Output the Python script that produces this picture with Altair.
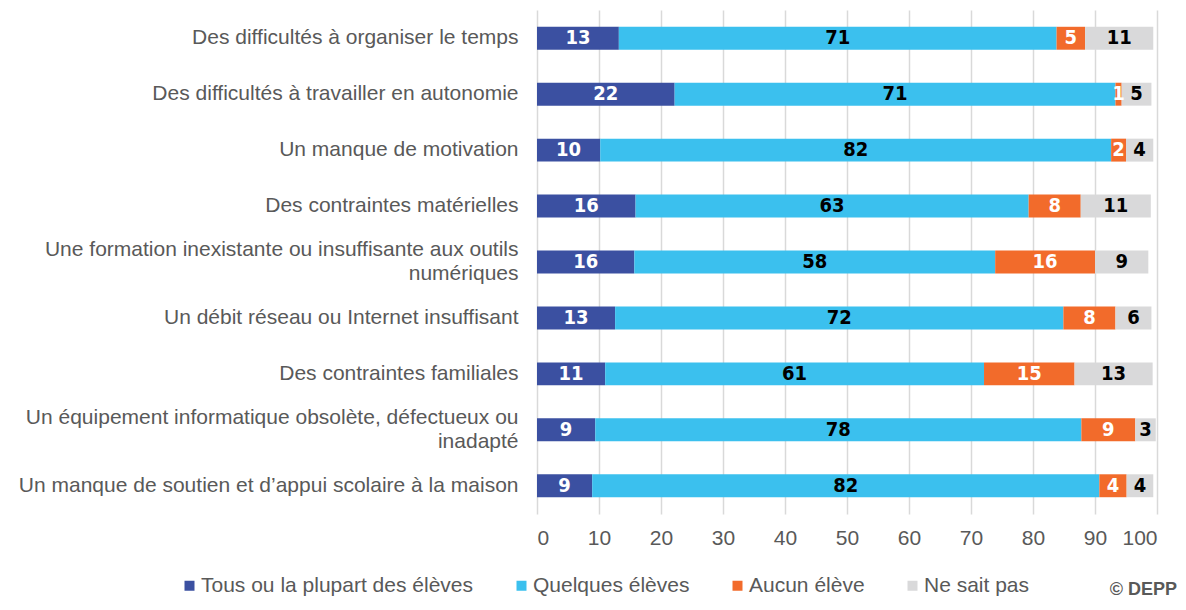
import altair as alt
import pandas as pd

categories = [
    ["Des difficultés à organiser le temps"],
    ["Des difficultés à travailler en autonomie"],
    ["Un manque de motivation"],
    ["Des contraintes matérielles"],
    ["Une formation inexistante ou insuffisante aux outils", "numériques"],
    ["Un débit réseau ou Internet insuffisant"],
    ["Des contraintes familiales"],
    ["Un équipement informatique obsolète, défectueux ou", "inadapté"],
    ["Un manque de soutien et d’appui scolaire à la maison"],
]
series = ["Tous ou la plupart des élèves", "Quelques élèves", "Aucun élève", "Ne sait pas"]
colors = ["#3B50A1", "#3BC0EE", "#F26B2B", "#D9D9DA"]
label_colors = ["white", "black", "white", "black"]

tous = [13.2, 22.2, 10.2, 15.9, 15.7, 12.6, 11.0, 9.4, 8.9]
quelques = [70.6, 71.1, 82.4, 63.4, 58.2, 72.3, 61.1, 78.4, 81.8]
aucun = [4.6, 1.0, 2.4, 8.4, 16.1, 8.4, 14.6, 8.7, 4.4]
nsp = [11.0, 4.8, 4.4, 11.3, 8.6, 5.8, 12.6, 3.3, 4.3]

x_ticks = [0, 10, 20, 30, 40, 50, 60, 70, 80, 90, 100]

# approximate Arial / Liberation Sans advance widths (em) to center wrapped lines
_W = dict(zip("abcdefghijklmnopqrstuvwxyz",
              [.556, .556, .5, .556, .556, .278, .556, .556, .222, .222, .5, .222, .833,
               .556, .556, .556, .556, .333, .5, .278, .556, .5, .722, .5, .5, .5]))
_W.update({" ": .278, ",": .278, "U": .722, "é": .556, "è": .556, "à": .556, "’": .222})


def _width(s):
    return sum(_W.get(c, .556) for c in s)


def make_label(lines):
    if len(lines) == 1:
        return lines[0]
    pad = round((_width(lines[0]) - _width(lines[1])) / 2 / _W[" "])
    return lines[0] + "\n" + lines[1] + "\u00a0" * pad


cat_labels = [make_label(c) for c in categories]

rows = []
for si, vals in enumerate([tous, quelques, aucun, nsp]):
    for ci, v in enumerate(vals):
        rows.append({"cat": cat_labels[ci], "series": series[si], "value": v,
                     "order": si, "tcol": label_colors[si]})
df = pd.DataFrame(rows)

FONT = "Liberation Sans, Arial, sans-serif"
NARROW = "Liberation Sans Narrow, Arial Narrow, DejaVu Sans Condensed, sans-serif"
GREY = "#595959"
FS = 21

base = alt.Chart(df).transform_stack(
    stack="value", groupby=["cat"], as_=["v0", "v1"],
    sort=[alt.SortField("order", order="ascending")]
).transform_calculate(mid="(datum.v0 + datum.v1) / 2")

yenc = alt.Y("cat:N", sort=cat_labels, title=None,
             scale=alt.Scale(paddingInner=0.59, paddingOuter=0.3),
             axis=alt.Axis(labelExpr="split(datum.label, '\\n')", labelFontSize=FS,
                           labelColor=GREY, labelFont=FONT, labelPadding=19,
                           labelLimit=800, labelLineHeight=24,
                           labelOffset={"condition": {"test": "indexof(datum.label, '\\n') >= 0",
                                                      "value": -12}, "value": 0},
                           domain=False, ticks=False, grid=False))

bars = base.mark_bar().encode(
    x=alt.X("v0:Q", title=None,
            scale=alt.Scale(domain=[0, 100], nice=False),
            axis=alt.Axis(values=x_ticks, grid=True, gridColor="#D9D9D9", gridWidth=1.5,
                          domain=False, ticks=False, labelFontSize=FS, labelColor=GREY,
                          labelFont=FONT, labelPadding=13)),
    x2="v1:Q",
    y=yenc,
    color=alt.Color("series:N", scale=alt.Scale(domain=series, range=colors),
                    legend=alt.Legend(orient="none", legendX=-358, legendY=565,
                                      direction="horizontal", columns=4, title=None,
                                      symbolType="square", symbolSize=100,
                                      symbolStrokeWidth=0, symbolOpacity=1,
                                      labelFontSize=FS, labelColor=GREY, labelFont=FONT,
                                      labelLimit=500, labelOffset=1, columnPadding=37)),
    order=alt.Order("order:Q"),
)

texts = base.mark_text(font=NARROW, fontSize=20, fontWeight="bold", baseline="middle").encode(
    x=alt.X("mid:Q"),
    y=alt.Y("cat:N", sort=cat_labels),
    text=alt.Text("value:Q", format=".0f"),
    color=alt.Color("tcol:N", scale=None),
)

depp = alt.Chart(pd.DataFrame({"t": ["© DEPP"]})).mark_text(
    font=FONT, fontSize=18, fontWeight="bold", color=GREY, align="right", baseline="alphabetic"
).encode(text="t:N", x=alt.value(640), y=alt.value(585))

chart = alt.layer(bars, texts, depp).properties(
    width=620, height=504, autosize="none",
    padding={"left": 529, "top": 2, "right": 21, "bottom": 84},
).configure_view(stroke=None)

chart.save("out.html", embed_options={"renderer": "svg", "actions": False})
